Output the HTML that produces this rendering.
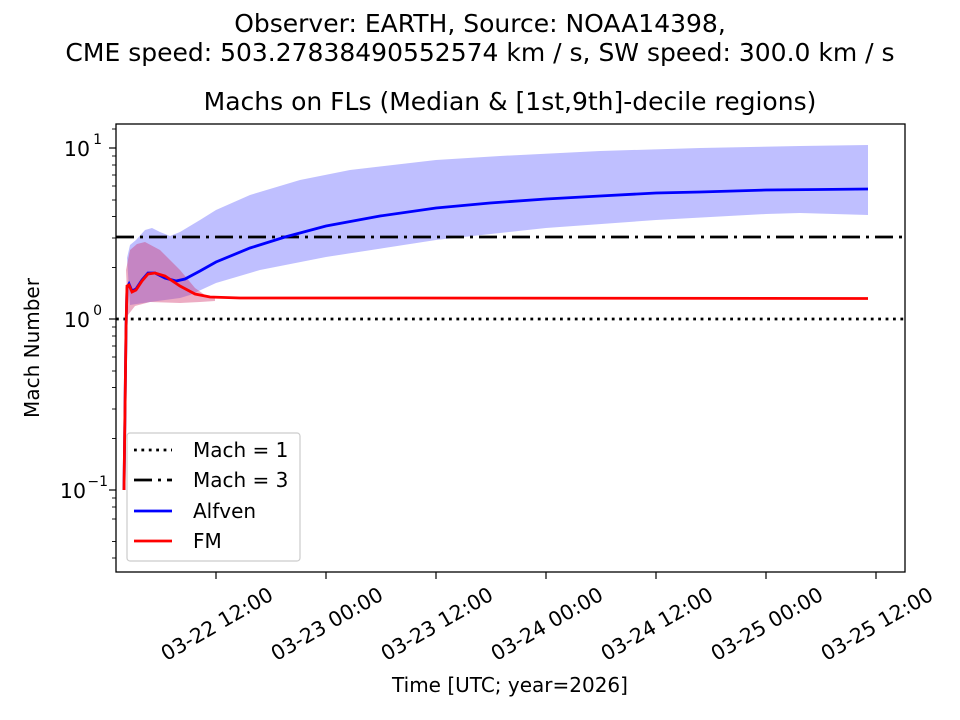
<!DOCTYPE html>
<html><head><meta charset="utf-8"><style>body{margin:0;background:#fff}svg{display:block}text{font-family:"DejaVu Sans","Liberation Sans",sans-serif;fill:#000}</style></head><body>
<svg width="960" height="720" viewBox="0 0 960 720">
<text x="480" y="32" font-size="25" text-anchor="middle">Observer: EARTH, Source: NOAA14398,</text>
<text x="480" y="61" font-size="25" text-anchor="middle">CME speed: 503.27838490552574 km / s, SW speed: 300.0 km / s</text>
<text x="510" y="110" font-size="25" text-anchor="middle">Machs on FLs (Median &amp; [1st,9th]-decile regions)</text>
<defs><clipPath id="c"><rect x="116" y="124" width="789" height="448"/></clipPath></defs>
<g clip-path="url(#c)">
<path d="M127,258 L130,245 L136,240 L145,230 L152,228 L160,232 L170,236 L180,232 L200,220 L216,210 L250,195 L300,180 L350,170 L436,160 L500,156 L600,151 L700,148 L800,146 L868,145 L868,215 L800,213 L766,214 L656,220 L546,228 L436,240 L326,257 L260,270 L216,283 L190,295 L180,298 L150,302 L130,305 Z" fill="#0000ff" fill-opacity="0.25"/>
<path d="M126,270 L130,250 L137,244 L145,242 L160,250 L180,270 L195,288 L205,295 L215,297 L215,301 L200,302 L180,303 L150,302 L135,306 L128,315 Z" fill="#d0306a" fill-opacity="0.4"/>
<line x1="116" y1="319" x2="905" y2="319" stroke="#000" stroke-width="2.8" stroke-dasharray="2.8,4.6"/>
<line x1="116" y1="237" x2="905" y2="237" stroke="#000" stroke-width="2.8" stroke-dasharray="18,6,3,6"/>
<path d="M124,490 L126,330 L127,288 L129,284 L132,291 L136,289 L142,280 L148,273 L155,273 L165,278 L176,281 L185,279 L200,271 L216,262 L250,248 L285,237 L326,226 L380,216 L436,208 L490,203 L546,199 L600,196 L656,193 L700,192 L766,190 L820,189.5 L868,189" fill="none" stroke="#0000ff" stroke-width="2.8"/>
<path d="M124,490 L126,330 L127,286 L129,285 L132,292 L136,290 L142,281 L148,274 L155,273 L165,276 L180,286 L195,294 L210,297 L240,298 L400,298 L868,298.5" fill="none" stroke="#ff0000" stroke-width="2.8"/>
</g>
<rect x="116" y="124" width="789" height="448" fill="none" stroke="#000" stroke-width="1.3"/>
<g stroke="#000" stroke-width="1.2">
<line x1="109" y1="148" x2="116" y2="148"/><line x1="109" y1="319" x2="116" y2="319"/><line x1="109" y1="490" x2="116" y2="490"/>
<g stroke-width="0.9">
<line x1="112" y1="267.5" x2="116" y2="267.5"/><line x1="112" y1="238" x2="116" y2="238"/><line x1="112" y1="216.5" x2="116" y2="216.5"/><line x1="112" y1="200" x2="116" y2="200"/><line x1="112" y1="186" x2="116" y2="186"/><line x1="112" y1="175" x2="116" y2="175"/><line x1="112" y1="165" x2="116" y2="165"/><line x1="112" y1="156" x2="116" y2="156"/><line x1="112" y1="129" x2="116" y2="129"/>
<line x1="112" y1="438.5" x2="116" y2="438.5"/><line x1="112" y1="409" x2="116" y2="409"/><line x1="112" y1="387.5" x2="116" y2="387.5"/><line x1="112" y1="371" x2="116" y2="371"/><line x1="112" y1="357" x2="116" y2="357"/><line x1="112" y1="346" x2="116" y2="346"/><line x1="112" y1="336" x2="116" y2="336"/><line x1="112" y1="327" x2="116" y2="327"/>
<line x1="112" y1="541.5" x2="116" y2="541.5"/><line x1="112" y1="519" x2="116" y2="519"/><line x1="112" y1="507" x2="116" y2="507"/><line x1="112" y1="498" x2="116" y2="498"/><line x1="112" y1="558" x2="116" y2="558"/>
</g>
<line x1="216" y1="572" x2="216" y2="579"/><line x1="326" y1="572" x2="326" y2="579"/><line x1="436" y1="572" x2="436" y2="579"/><line x1="546" y1="572" x2="546" y2="579"/><line x1="656" y1="572" x2="656" y2="579"/><line x1="766" y1="572" x2="766" y2="579"/><line x1="876" y1="572" x2="876" y2="579"/>
</g>
<g font-size="20.5" text-anchor="end">
<text x="90" y="156">10</text><text x="102" y="144" font-size="14">1</text>
<text x="90" y="327">10</text><text x="102" y="315" font-size="14">0</text>
<text x="86" y="498">10</text><text x="108" y="486" font-size="14">−1</text>
</g>
<text x="39" y="348" font-size="20" text-anchor="middle" transform="rotate(-90 39 348)">Mach Number</text>
<g font-size="20.5" text-anchor="middle">
<text transform="translate(217,624) rotate(-30) translate(0,7)">03-22 12:00</text>
<text transform="translate(327,624) rotate(-30) translate(0,7)">03-23 00:00</text>
<text transform="translate(437,624) rotate(-30) translate(0,7)">03-23 12:00</text>
<text transform="translate(547,624) rotate(-30) translate(0,7)">03-24 00:00</text>
<text transform="translate(657,624) rotate(-30) translate(0,7)">03-24 12:00</text>
<text transform="translate(767,624) rotate(-30) translate(0,7)">03-25 00:00</text>
<text transform="translate(877,624) rotate(-30) translate(0,7)">03-25 12:00</text>
</g>
<text x="510" y="692" font-size="20" text-anchor="middle">Time [UTC; year=2026]</text>
<rect x="127" y="433" width="173" height="128" rx="3" fill="#fff" fill-opacity="0.8" stroke="#ccc" stroke-width="1.2"/>
<line x1="134" y1="450" x2="172" y2="450" stroke="#000" stroke-width="2.8" stroke-dasharray="2.8,4.6"/>
<line x1="134" y1="480" x2="172" y2="480" stroke="#000" stroke-width="2.8" stroke-dasharray="18,6,3,6"/>
<line x1="134" y1="511" x2="172" y2="511" stroke="#0000ff" stroke-width="2.8"/>
<line x1="134" y1="541" x2="172" y2="541" stroke="#ff0000" stroke-width="2.8"/>
<g font-size="20"><text x="193" y="457">Mach = 1</text><text x="193" y="487">Mach = 3</text><text x="193" y="518">Alfven</text><text x="193" y="548">FM</text></g>
</svg>
</body></html>
